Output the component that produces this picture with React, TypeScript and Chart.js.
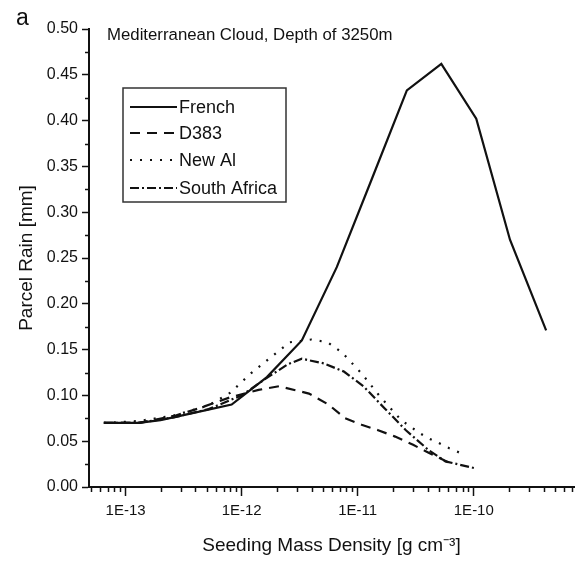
import React, { useEffect, useRef } from "react";
import { Chart, registerables } from "chart.js";

Chart.register(...registerables);

const FONT = '"Liberation Sans", Arial, sans-serif';
const INK = "#111111";

// Seeding mass density [g cm^-3] and parcel rain [mm] for each seeding type
const frenchX = [6.5e-14, 1.3e-13, 2.0e-13, 3.3e-13, 8.2e-13, 1.65e-12, 3.3e-12, 6.6e-12, 1.32e-11, 2.65e-11, 5.25e-11, 1.05e-10, 2.05e-10, 4.2e-10];
const frenchY = [0.070, 0.070, 0.073, 0.079, 0.090, 0.120, 0.160, 0.240, 0.336, 0.433, 0.462, 0.402, 0.270, 0.171];

const d383X = [6.5e-14, 1.3e-13, 2.7e-13, 4.3e-13, 8e-13, 1.4e-12, 2.1e-12, 3.8e-12, 5.6e-12, 7.8e-12, 1.08e-11, 1.5e-11, 2.1e-11, 3e-11, 4e-11, 6e-11];
const d383Y = [0.070, 0.070, 0.078, 0.086, 0.098, 0.106, 0.110, 0.102, 0.090, 0.075, 0.068, 0.062, 0.055, 0.046, 0.038, 0.027];

const newAlX = [6.5e-14, 1.3e-13, 2.6e-13, 5.2e-13, 8e-13, 1.2e-12, 1.8e-12, 2.6e-12, 4e-12, 5.5e-12, 7.3e-12, 1.08e-11, 1.55e-11, 2.37e-11, 3.4e-11, 4.1e-11, 5e-11, 6.1e-11, 7.7e-11];
const newAlY = [0.070, 0.072, 0.078, 0.089, 0.103, 0.124, 0.142, 0.158, 0.161, 0.158, 0.147, 0.124, 0.099, 0.073, 0.059, 0.053, 0.048, 0.0425, 0.037];

const southAfricaX = [6.5e-14, 1.3e-13, 2.6e-13, 5.2e-13, 1e-12, 1.6e-12, 2.5e-12, 3.3e-12, 5.1e-12, 7.6e-12, 1.12e-11, 1.7e-11, 2.6e-11, 4.1e-11, 5.7e-11, 1.06e-10];
const southAfricaY = [0.070, 0.070, 0.076, 0.085, 0.100, 0.118, 0.134, 0.140, 0.135, 0.126, 0.110, 0.086, 0.062, 0.040, 0.028, 0.020];

const seriesLabels = ["French", "D383", "New Al", "South Africa"];
const seriesDashes: number[][] = [[], [10, 7], [2, 8], [9, 3, 2, 3]];

const X_MIN = 4.84e-14;
const X_MAX = 7.3e-10;
const Y_MIN = 0;
const Y_MAX = 0.5;
const Y_STEP = 0.05;

const chartTitle = "Mediterranean Cloud, Depth of 3250m";
const panelLetter = "a";
const xTitle = "Seeding Mass Density [g cm\u207B\u00B3]";
const yTitle = "Parcel Rain [mm]";

const isDecade = (v: number | undefined) => {
  if (v === undefined || !(v > 0)) return false;
  const l = Math.log10(v);
  return Math.abs(l - Math.round(l)) < 1e-6;
};

const toPoints = (xs: number[], ys: number[]) => xs.map((x, i) => ({ x, y: ys[i] }));

const decorPlugin = {
  id: "decor",
  afterDraw(chart: any) {
    const { ctx, chartArea, scales } = chart;
    const xs = scales.x;
    const ys = scales.y;
    ctx.save();
    ctx.strokeStyle = INK;
    ctx.lineWidth = 1.5;
    ctx.setLineDash([]);
    // minor y ticks
    for (let v = Y_STEP / 2; v < Y_MAX; v += Y_STEP) {
      const py = Math.round(ys.getPixelForValue(v)) + 0.5;
      ctx.beginPath();
      ctx.moveTo(chartArea.left - 4, py);
      ctx.lineTo(chartArea.left, py);
      ctx.stroke();
    }
    // minor x ticks
    for (let e = -14; e <= -9; e++) {
      for (let k = 2; k <= 9; k++) {
        const v = k * Math.pow(10, e);
        if (v < X_MIN || v > X_MAX) continue;
        const px = Math.round(xs.getPixelForValue(v)) + 0.5;
        ctx.beginPath();
        ctx.moveTo(px, chartArea.bottom);
        ctx.lineTo(px, chartArea.bottom + 5);
        ctx.stroke();
      }
    }
    // title inside plot
    ctx.fillStyle = INK;
    ctx.textBaseline = "middle";
    ctx.textAlign = "left";
    ctx.font = `16.8px ${FONT}`;
    ctx.fillText(chartTitle, 107, 35);
    // panel letter
    ctx.font = `23px ${FONT}`;
    ctx.textBaseline = "alphabetic";
    ctx.fillText(panelLetter, 16, 25);
    // legend box
    const bx = 123, by = 88, bw = 163, bh = 114;
    ctx.lineWidth = 1.5;
    ctx.strokeStyle = "#333333";
    ctx.strokeRect(bx, by, bw, bh);
    const rows = [107, 133, 160, 188];
    ctx.font = `18px ${FONT}`;
    ctx.textBaseline = "middle";
    chart.data.datasets.forEach((ds: any, i: number) => {
      const y = rows[i];
      ctx.strokeStyle = INK;
      ctx.lineWidth = ds.borderWidth;
      ctx.setLineDash(ds.borderDash || []);
      ctx.beginPath();
      ctx.moveTo(130, y);
      ctx.lineTo(177, y);
      ctx.stroke();
      ctx.setLineDash([]);
      ctx.fillStyle = INK;
      ctx.fillText(ds.label, 179, y + 1);
    });
    ctx.restore();
  },
};

export default function App() {
  const canvasRef = useRef<HTMLCanvasElement | null>(null);

  useEffect(() => {
    const canvas = canvasRef.current;
    if (!canvas) return;
    const seriesX = [frenchX, d383X, newAlX, southAfricaX];
    const seriesY = [frenchY, d383Y, newAlY, southAfricaY];
    const chart = new Chart(canvas, {
      type: "line",
      data: {
        datasets: seriesLabels.map((label, i) => ({
          label,
          data: toPoints(seriesX[i], seriesY[i]),
          borderColor: INK,
          backgroundColor: INK,
          borderWidth: 2.2,
          borderDash: seriesDashes[i],
          pointRadius: 0,
          tension: 0,
          fill: false,
        })),
      },
      options: {
        responsive: false,
        animation: false,
        parsing: true,
        layout: { padding: { top: 29, left: 0, right: 0, bottom: 0 } },
        plugins: {
          legend: { display: false },
          tooltip: { enabled: false },
          title: { display: false },
        },
        scales: {
          x: {
            type: "logarithmic",
            min: X_MIN,
            max: X_MAX,
            border: { display: true, color: INK, width: 2 },
            grid: {
              display: true,
              drawOnChartArea: false,
              drawTicks: true,
              tickLength: 9,
              tickWidth: 1.5,
              tickColor: (c: any) => (isDecade(c.tick?.value) ? INK : "rgba(0,0,0,0)"),
            },
            ticks: {
              autoSkip: false,
              maxRotation: 0,
              minRotation: 0,
              padding: 6,
              color: INK,
              font: { family: FONT, size: 15 },
              callback: (v: any) => {
                const n = Number(v);
                return isDecade(n) ? `1E${Math.round(Math.log10(n))}` : "";
              },
            },
            title: {
              display: true,
              text: xTitle,
              color: INK,
              font: { family: FONT, size: 19 },
              padding: { top: 0, bottom: 3.6 },
            },
            afterFit: (s: any) => {
              s.height = 74;
            },
          },
          y: {
            type: "linear",
            min: Y_MIN,
            max: Y_MAX,
            border: { display: true, color: INK, width: 2 },
            grid: {
              display: true,
              drawOnChartArea: false,
              drawTicks: true,
              tickLength: 7,
              tickWidth: 1.5,
              tickColor: INK,
            },
            ticks: {
              stepSize: Y_STEP,
              padding: 4,
              color: INK,
              font: { family: FONT, size: 16 },
              callback: (v: any) => Number(v).toFixed(2),
            },
            title: {
              display: true,
              text: yTitle,
              color: INK,
              font: { family: FONT, size: 19 },
              padding: { top: 15.6, bottom: 0 },
            },
            afterFit: (s: any) => {
              s.width = 89;
            },
          },
        },
      },
      plugins: [decorPlugin],
    } as any);
    return () => chart.destroy();
  }, []);

  return (
    <div style={{ position: "fixed", left: 0, top: 0, width: 580, height: 561, background: "#fff" }}>
      <canvas ref={canvasRef} width={580} height={561} style={{ width: 580, height: 561, display: "block" }} />
    </div>
  );
}
